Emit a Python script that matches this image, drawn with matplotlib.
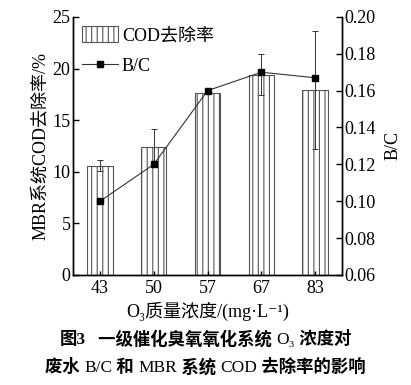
import numpy as np
import matplotlib
matplotlib.use("Agg")
import matplotlib.pyplot as plt

plt.rcParams['font.family'] = ['Liberation Serif', 'Noto Sans CJK SC', 'DejaVu Serif']
plt.rcParams['hatch.linewidth'] = 0.8
plt.rcParams['hatch.color'] = '#555555'

# data
concentrations = ['43', '50', '57', '67', '83']
cod_removal = [10.6, 12.4, 17.6, 19.4, 17.9]
cod_err = [0.5, 1.7, 0.0, 2.0, 5.7]
bc_ratio = [0.100, 0.120, 0.160, 0.170, 0.167]

x = np.arange(len(concentrations))

fig = plt.figure(figsize=(4.11, 3.85), dpi=100)
ax = fig.add_axes([0.178, 0.286, 0.654, 0.670])
ax2 = ax.twinx()

ax.bar(x, cod_removal, width=0.47, color='white', edgecolor='#555555',
       linewidth=0.8, hatch='|||', label='COD去除率')
ax.errorbar(x, cod_removal, yerr=cod_err, fmt='none', ecolor='#333333',
            elinewidth=0.7, capsize=2.5, capthick=0.7)

ax2.plot(x, bc_ratio, color='#333333', linewidth=0.8, marker='s',
         markersize=5, markerfacecolor='black', markeredgecolor='black',
         label='B/C')

ax.set_xlim(-0.5, 4.5)
ax.set_ylim(0, 25)
ax.set_yticks([0, 5, 10, 15, 20, 25])
ax2.set_ylim(0.06, 0.20)
ax2.set_yticks(np.arange(0.06, 0.201, 0.02))
ax2.set_yticklabels([f'{v:.2f}' for v in np.arange(0.06, 0.201, 0.02)])
ax.set_xticks(x)
ax.set_xticklabels(concentrations)

for a in (ax, ax2):
    a.spines['top'].set_visible(False)
    for s in a.spines.values():
        s.set_linewidth(1.0)
    a.tick_params(direction='in', length=4, width=1.0, labelsize=13, pad=2)
ax.tick_params(axis='x', length=3, pad=4)

ax.set_ylabel('MBR系统COD去除率/%', fontsize=13, labelpad=2)
ax2.set_ylabel('B/C', fontsize=13, labelpad=6)
ax.set_xlabel('O₃质量浓度/(mg·L⁻¹)', fontsize=13, labelpad=3)

h1, l1 = ax.get_legend_handles_labels()
h2, l2 = ax2.get_legend_handles_labels()
ax.legend(h1 + h2, l1 + l2, loc='upper left', frameon=False, fontsize=13,
          handlelength=2.0, handleheight=1.0, labelspacing=0.7,
          handletextpad=0.2, borderaxespad=0.3, borderpad=0.2)


def draw_pieces(y, pieces):
    # draw a caption line from pieces of text in different weights, centred
    r = fig.canvas.get_renderer()
    texts = []
    for s, w in pieces:
        t = fig.text(0, y, s, ha='left', va='center', fontsize=12.5, fontweight=w)
        texts.append(t)
    widths = [t.get_window_extent(r).width for t in texts]
    x0 = (fig.bbox.width - sum(widths)) / 2
    for t, wd in zip(texts, widths):
        t.set_x(x0 / fig.bbox.width)
        x0 += wd


draw_pieces(0.118, [('图3', 'bold'), ('   一级催化臭氧氧化系统 ', 'bold'),
                    ('O₃', 'normal'), (' 浓度对', 'bold')])
draw_pieces(0.045, [('废水 ', 'bold'), ('B/C', 'normal'), (' 和 ', 'bold'),
                    ('MBR', 'normal'), (' 系统 ', 'bold'), ('COD', 'normal'),
                    (' 去除率的影响', 'bold')])

fig.savefig('out.png', dpi=100)
